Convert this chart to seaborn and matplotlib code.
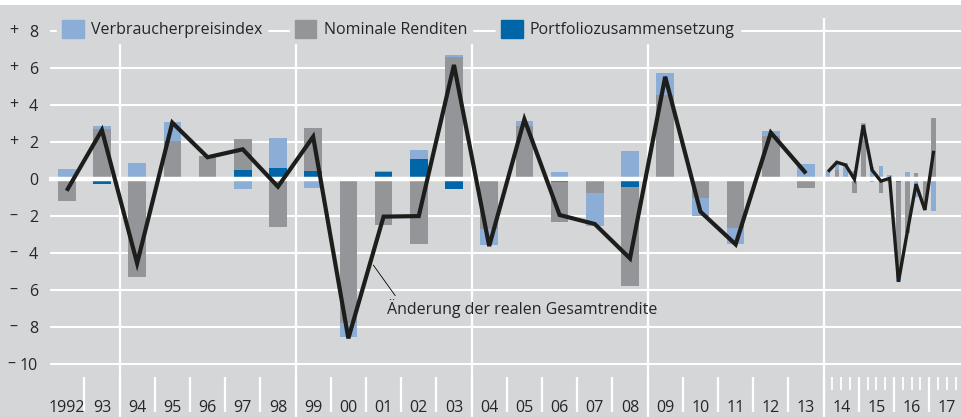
import numpy as np
import matplotlib
matplotlib.use("Agg")
import matplotlib.pyplot as plt
import matplotlib.patches as mpatches
import seaborn as sns

# annual values 1992-2013
years = ['1992', '93', '94', '95', '96', '97', '98', '99', '00', '01', '02', '03',
         '04', '05', '06', '07', '08', '09', '10', '11', '12', '13']
cpi = [0.5, 0.18, 0.82, 1.01, 0.0, -0.58, 1.65, -0.5, -0.72, 0.05, 0.5, 0.09,
       -0.87, 0.28, 0.37, -1.75, 1.49, 1.18, -0.96, -0.86, 0.27, 0.78]
nominal = [-1.22, 2.66, -5.34, 2.04, 1.23, 1.68, -2.64, 2.29, -7.83, -2.51, -3.56, 6.59,
           -2.73, 2.84, -2.19, -0.8, -5.37, 4.51, -1.04, -2.7, 2.3, -0.53]
portfolio = [0.0, -0.31, 0.0, 0.0, 0.0, 0.46, 0.55, 0.42, 0.0, 0.37, 1.05, -0.57,
             0.0, 0.0, -0.18, 0.0, -0.44, -0.15, 0.0, 0.0, 0.0, 0.0]
total = [-0.66, 2.62, -4.58, 3.02, 1.15, 1.58, -0.44, 2.26, -8.64, -2.06, -2.03, 6.14,
         -3.65, 3.2, -1.97, -2.46, -4.32, 5.5, -1.79, -3.56, 2.48, 0.28]

# quarterly values 2014 Q1 - 2017 Q1
q_years = ['14', '15', '16', '17']
q_cpi = [0.42, 0.4, 0.85, 0.4, 0.9, 0.64, 0.67, 0.2, -0.2, 0.37, -1.0, 0.0, -1.75]
q_nominal = [0.0, 0.45, -0.15, -0.8, 2.0, -0.17, -0.8, -0.2, -5.2, -2.95, 0.3, -1.7, 3.25]
q_portfolio = [0.0, 0.0, 0.0, 0.0, 0.1, 0.0, 0.0, 0.0, -0.2, 0.0, 0.0, 0.0, 0.0]
q_total = [0.37, 0.88, 0.73, -0.04, 2.89, 0.46, -0.14, 0.01, -5.58, -2.9, -0.3, -1.7, 1.5]

labels = ['Verbraucherpreisindex', 'Nominale Renditen', 'Portfoliozusammensetzung']
c_cpi, c_nom, c_port = '#8cadd6', '#939598', '#0066a8'
bg = '#d5d6d8'
txt = '#262626'
fs = 11.5

sns.set_style('darkgrid', {'axes.facecolor': bg, 'figure.facecolor': bg,
                           'grid.color': 'white', 'axes.edgecolor': bg})
plt.rcParams['font.family'] = ['Open Sans', 'DejaVu Sans']
plt.rcParams['font.size'] = fs

fig = plt.figure(figsize=(9.62, 4.17), dpi=100)
left = 49.1 / 962
ax = fig.add_axes([left, 0, 1 - left, 1])
ax.set_xlim(-0.5, 25.43)
ax.set_ylim(-12.89, 9.65)

x_a = np.arange(len(years))
x_q = 21.5 + 0.125 + 0.25 * np.arange(len(q_total))


def stacked(ax, x, series, colors, width):
    pos = np.zeros(len(x))
    neg = np.zeros(len(x))
    for vals, col in zip(series, colors):
        v = np.array(vals)
        base = np.where(v >= 0, pos, neg)
        ax.bar(x, v, bottom=base, width=width, color=col, linewidth=0, zorder=2)
        pos = pos + np.clip(v, 0, None)
        neg = neg + np.clip(v, None, 0)


stacked(ax, x_a, [portfolio, nominal, cpi], [c_port, c_nom, c_cpi], 0.5)
stacked(ax, x_q, [q_portfolio, q_nominal, q_cpi], [c_port, c_nom, c_cpi], 0.13)

# zero line over the bars
ax.axhline(0, color='white', lw=3.2, zorder=3)

sns.lineplot(x=x_a, y=total, ax=ax, color='#1d1d1b', lw=3.0, zorder=5,
             solid_joinstyle='miter', solid_capstyle='butt')
sns.lineplot(x=x_q, y=q_total, ax=ax, color='#1d1d1b', lw=2.4, zorder=5,
             solid_joinstyle='miter', solid_capstyle='butt')

# y axis
yt = list(range(-10, 9, 2))
ax.set_yticks(yt)
ax.set_yticklabels([str(abs(v)) for v in yt], color=txt, fontsize=fs)
ax.tick_params(axis='y', length=0, pad=8)
ax.grid(axis='x', visible=False)
ax.grid(axis='y', lw=1.5)
ax.set_xticks([])
for v in yt:
    if v != 0:
        ax.text(-0.039 if v > -10 else -0.041, v, '+' if v > 0 else '–',
                transform=ax.get_yaxis_transform(),
                ha='center', va='center', color=txt, fontsize=fs)

# separators
seps = [1.5, 6.5, 11.5, 16.5, 21.5]
tops = [7.3, 7.3, 7.3, 7.3, 8.7]
for s, t in zip(seps, tops):
    ax.vlines(s, -12.89, t, color='white', lw=1.6, zorder=1)

# bottom ticks and year labels
all_years = years + q_years
bounds = np.arange(len(all_years) + 1) - 0.5
for b in bounds[1:]:
    ax.vlines(b, -12.62, -10.73, color='white', lw=1.6, zorder=1)
ax.vlines(bounds[0], -11.45, -10.73, color='white', lw=1.6, zorder=1)
q_ticks = [21.5 + 0.25 * m for m in range(1, 16) if m % 4]
ax.vlines(q_ticks, -11.45, -10.73, color='white', lw=1.3, zorder=1)
for i, lab in enumerate(all_years):
    ax.text(i, -12.4, lab, ha='center', va='center', color=txt, fontsize=fs)

# annotation
ax.annotate('Änderung der realen Gesamtrendite', xy=(8.71, -4.68), xytext=(9.09, -7.02),
            ha='left', va='center', color=txt, fontsize=fs,
            arrowprops=dict(arrowstyle='-', lw=0.6, color='black',
                            relpos=(0.04, 1.0), shrinkA=0, shrinkB=0))

# legend boxes
for lab, col, xa in zip(labels, [c_cpi, c_nom, c_port], [0.009, 0.264, 0.490]):
    leg = ax.legend(handles=[mpatches.Patch(color=col, label=lab)], loc='center left',
                    bbox_to_anchor=(xa, 0.930), frameon=True, facecolor=bg, edgecolor=bg,
                    framealpha=1, fancybox=False, borderpad=0.3, borderaxespad=0,
                    handlelength=1.35, handleheight=1.35, handletextpad=0.45,
                    labelcolor=txt, fontsize=fs)
    ax.add_artist(leg)

fig.patches.append(mpatches.Rectangle((0, 1 - 5 / 417), 1, 5 / 417, transform=fig.transFigure,
                                      facecolor='white', edgecolor='none', zorder=10))

fig.savefig('out.png', dpi=100)
